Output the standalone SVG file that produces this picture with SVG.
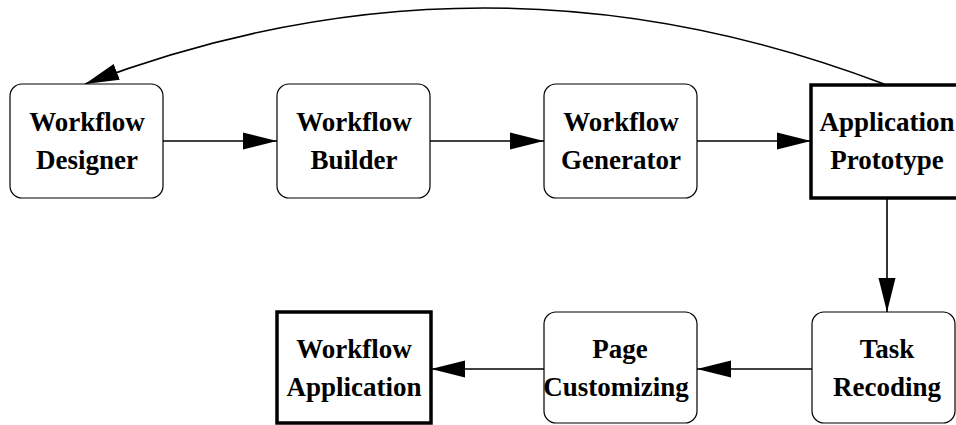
<svg xmlns="http://www.w3.org/2000/svg" width="956" height="425" viewBox="0 0 956 425">
<defs>
<style>
.box{fill:#fff;stroke:#000;stroke-width:1.2}
.bold{fill:#fff;stroke:#000;stroke-width:3.5}
.lbl{font-family:"Liberation Serif","Times New Roman",serif;font-weight:bold;font-size:27px;fill:#000;text-anchor:middle}
.edge{fill:none;stroke:#000;stroke-width:1.6}
</style>
<marker id="ah" markerUnits="userSpaceOnUse" markerWidth="34" markerHeight="18" viewBox="0 0 32 16" refX="32" refY="8" orient="auto">
<path d="M0,0 L32,8 L0,16 Z" fill="#000"/>
</marker>
</defs>
<rect width="956" height="425" fill="#fff"/>
<g id="connectors">
<path class="edge" d="M163,141 L277,141" marker-end="url(#ah)"/>
<path class="edge" d="M430,141 L544,141" marker-end="url(#ah)"/>
<path class="edge" d="M697,141 L811,141" marker-end="url(#ah)"/>
<path class="edge" d="M887,199 L887,312" marker-end="url(#ah)"/>
<path class="edge" d="M812,369 L697,369" marker-end="url(#ah)"/>
<path class="edge" d="M544,369 L431,369" marker-end="url(#ah)"/>
<path class="edge" d="M884,84 Q484,-68 85,84" marker-end="url(#ah)"/>
</g>
<g id="workflow-designer">
<rect class="box" x="10" y="84" width="153" height="114" rx="12"/>
<text class="lbl" x="87" y="131">Workflow</text>
<text class="lbl" x="87" y="169">Designer</text>
</g>
<g id="workflow-builder">
<rect class="box" x="277" y="84" width="153" height="114" rx="12"/>
<text class="lbl" x="354" y="131">Workflow</text>
<text class="lbl" x="354" y="169">Builder</text>
</g>
<g id="workflow-generator">
<rect class="box" x="544" y="84" width="153" height="114" rx="12"/>
<text class="lbl" x="621" y="131">Workflow</text>
<text class="lbl" x="621" y="169">Generator</text>
</g>
<g id="application-prototype">
<rect class="bold" x="811" y="85" width="160" height="113"/>
<text class="lbl" x="887" y="131">Application</text>
<text class="lbl" x="887" y="169">Prototype</text>
</g>
<g id="task-recoding">
<rect class="box" x="812" y="312" width="143" height="111" rx="12"/>
<text class="lbl" x="887" y="358">Task</text>
<text class="lbl" x="887" y="396">Recoding</text>
</g>
<g id="page-customizing">
<rect class="box" x="544" y="312" width="153" height="111" rx="12"/>
<text class="lbl" x="620" y="358">Page</text>
<text class="lbl" x="616" y="396">Customizing</text>
</g>
<g id="workflow-application">
<rect class="bold" x="277" y="312" width="154" height="111"/>
<text class="lbl" x="354" y="358">Workflow</text>
<text class="lbl" x="354" y="396">Application</text>
</g>
</svg>
